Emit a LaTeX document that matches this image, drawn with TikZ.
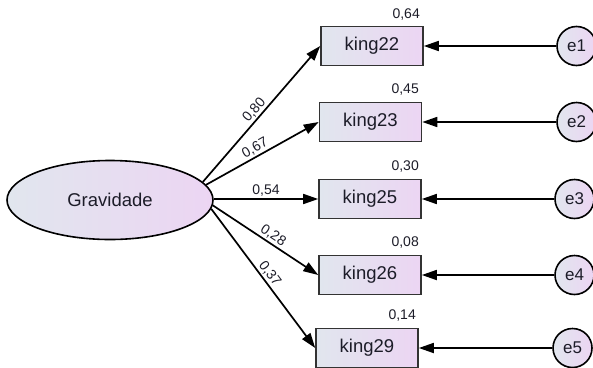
\documentclass[tikz,border=0pt]{standalone}
\usepackage{fontspec}
\setmainfont{Liberation Sans}
\usetikzlibrary{arrows.meta,shapes.geometric}
\definecolor{gl}{HTML}{E1E6EE}
\definecolor{gr}{HTML}{ECD5F3}
\definecolor{txt}{HTML}{1C1C28}
\begin{document}
\begin{tikzpicture}[x=1pt,y=-1pt,
  obs/.style={draw=black!80,line width=1.6pt,rectangle,minimum width=102pt,minimum height=39pt,
    left color=gl,right color=gr,inner sep=0pt,text=txt,font=\fontsize{18.5}{21}\selectfont},
  lat/.style={draw=black,line width=1.6pt,ellipse,minimum width=206pt,minimum height=79pt,
    left color=gl,right color=gr,inner sep=0pt,text=txt,font=\fontsize{18.5}{21}\selectfont},
  err/.style={circle,draw=black,line width=1.6pt,minimum size=39pt,inner sep=0pt,
    left color=gl,right color=gr,text=txt,font=\fontsize{17}{19}\selectfont},
  pth/.style={line width=1.7pt,-{Triangle[length=15pt,width=10pt]}},
  coef/.style={font=\fontsize{14}{16}\selectfont,text=txt,sloped,above,inner sep=1.5pt},
  var/.style={font=\fontsize{14}{16}\selectfont,text=txt,anchor=south east,inner sep=0pt}]
\useasboundingbox (0,0) rectangle (593,367);
\node[lat] (g) at (110,200) {Gravidade};
\node[obs] (k22) at (372,46) {king22};
\node[obs] (k23) at (370.5,122) {king23};
\node[obs] (k25) at (370,199) {king25};
\node[obs] (k26) at (370,275) {king26};
\node[obs] (k29) at (367,348) {king29};
\node[err] (e1) at (576.5,46) {e1};
\node[err] (e2) at (576.5,122) {e2};
\node[err] (e3) at (574.5,199) {e3};
\node[err] (e4) at (574.5,275) {e4};
\node[err] (e5) at (572.5,348) {e5};
\draw[pth] (g.11) -- node[coef,pos=0.49] {0,80} (k22.west);
\draw[pth] (g.9) -- node[coef,pos=0.47] {0,67} (k23.west);
\draw[pth] (g.east |- k25.west) -- node[coef,pos=0.5] {0,54} (k25.west);
\draw[pth] (g.-3) -- node[coef,pos=0.53] {0,28} (k26.west);
\draw[pth] (g.-5) -- node[coef,pos=0.5] {0,37} (k29.west);
\draw[pth] (e1) -- (k22);
\draw[pth] (e2) -- (k23);
\draw[pth] (e3) -- (k25);
\draw[pth] (e4) -- (k26);
\draw[pth] (e5) -- (k29);
\node[var] (v22) at (420,20) {0,64};
\node[var] (v23) at (419,95) {0,45};
\node[var] (v25) at (419,172) {0,30};
\node[var] (v26) at (419,248) {0,08};
\node[var] (v29) at (416,321) {0,14};
\end{tikzpicture}
\end{document}
